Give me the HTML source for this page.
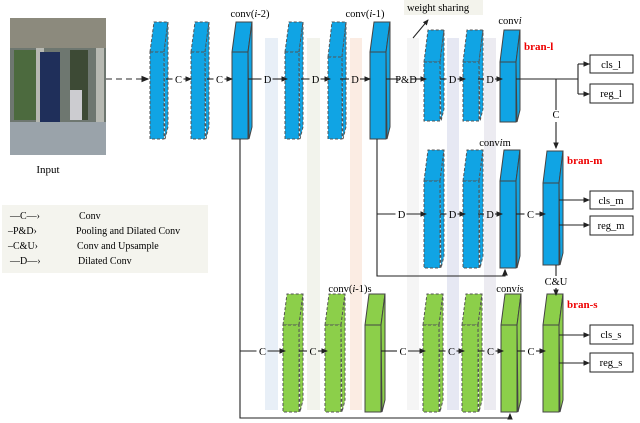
<!DOCTYPE html>
<html><head><meta charset="utf-8"><style>
html,body{margin:0;padding:0;background:#fff;}
svg{display:block;font-family:"Liberation Serif",serif;}
</style></head><body>
<svg id="s" width="640" height="423" viewBox="0 0 640 423" xmlns="http://www.w3.org/2000/svg">
<defs><marker id="a" markerWidth="6" markerHeight="6" refX="5" refY="3" orient="auto"><path d="M0,0.5 L6,3 L0,5.5z" fill="#222"/></marker></defs>
<!-- bands -->
<rect x="265" y="38" width="13" height="372" fill="#e8eff7"/>
<rect x="307" y="38" width="13" height="372" fill="#f2f3ec"/>
<rect x="350" y="38" width="12" height="372" fill="#fbece3"/>
<rect x="407" y="38" width="12" height="372" fill="#f5f5f5"/>
<rect x="447" y="38" width="12" height="372" fill="#e6e8f3"/>
<rect x="484" y="38" width="12" height="372" fill="#ecebf1"/>
<!-- photo -->
<rect x="10" y="18" width="96" height="137" fill="#6e7770"/>
<rect x="10" y="18" width="96" height="30" fill="#8c8a7d"/>
<rect x="14" y="50" width="22" height="70" fill="#4c6a3e"/>
<rect x="70" y="50" width="18" height="70" fill="#3d4a35"/>
<rect x="36" y="48" width="8" height="75" fill="#b7b9b2"/>
<rect x="96" y="48" width="8" height="75" fill="#b7b9b2"/>
<rect x="40" y="52" width="20" height="70" fill="#1f2f5a"/>
<rect x="70" y="90" width="12" height="30" fill="#ccccd0"/>
<rect x="10" y="122" width="96" height="33" fill="#9aa3aa"/>
<text x="48" y="173" font-size="11" text-anchor="middle">Input</text>
<line x1="106" y1="79" x2="148" y2="79" stroke="#555" stroke-width="1.3" stroke-dasharray="6,4" marker-end="url(#a)"/>
<!-- legend -->
<rect x="2" y="205" width="206" height="68" fill="#f4f4ee"/>
<g font-size="10">
<text x="10" y="219">—C—›</text><text x="79" y="219">Conv</text>
<text x="8" y="234">–P&amp;D›</text><text x="76" y="234">Pooling and Dilated Conv</text>
<text x="8" y="249">–C&amp;U›</text><text x="77" y="249">Conv and Upsample</text>
<text x="10" y="264">—D—›</text><text x="78" y="264">Dilated Conv</text>
</g>
<!-- weight sharing -->
<rect x="404" y="0" width="79" height="15" fill="#f3f3ec"/>
<text x="407" y="11" font-size="10.5">weight sharing</text>
<line x1="413" y1="38" x2="428" y2="20" stroke="#222" marker-end="url(#a)"/>
<g id="blocks"></g>
<g id="lines" stroke="#222" stroke-width="1.1" fill="none"></g>
<g font-size="10.5" text-anchor="middle" id="lbl">
<text x="250" y="17">conv(<tspan font-style="italic">i</tspan>-2)</text>
<text x="365" y="17">conv(<tspan font-style="italic">i</tspan>-1)</text>
<text x="510" y="24">conv<tspan font-style="italic">i</tspan></text>
<text x="495" y="146">conv<tspan font-style="italic">i</tspan>m</text>
<text x="350" y="292">conv(<tspan font-style="italic">i</tspan>-1)s</text>
<text x="510" y="292">conv<tspan font-style="italic">i</tspan>s</text>
<text x="556" y="285">C&amp;U</text>
<text x="556" y="118">C</text>
</g>
<g font-size="11" font-weight="bold" fill="#e00" font-family="Liberation Serif,serif">
<text x="524" y="50">bran-l</text><text x="567" y="164">bran-m</text><text x="567" y="308">bran-s</text>
</g>
<g font-size="10.5" text-anchor="middle" fill="none" stroke="#222">
<rect x="590" y="55" width="43" height="18"/><rect x="590" y="84" width="43" height="19"/>
<rect x="590" y="191" width="43" height="18"/><rect x="590" y="216" width="43" height="19"/>
<rect x="590" y="325" width="43" height="19"/><rect x="590" y="353" width="43" height="19"/>
</g>
<g font-size="10.5" text-anchor="middle">
<text x="611" y="68">cls_l</text><text x="611" y="97">reg_l</text>
<text x="611" y="204">cls_m</text><text x="611" y="229">reg_m</text>
<text x="611" y="338">cls_s</text><text x="611" y="366">reg_s</text>
</g>
<g id="ops" font-size="10.5" text-anchor="middle"></g>
</svg>
<script>
const NS="http://www.w3.org/2000/svg";
const B=document.getElementById('blocks'),L=document.getElementById('lines'),O=document.getElementById('ops');
function el(p,t,a){const e=document.createElementNS(NS,t);for(const k in a)e.setAttribute(k,a[k]);p.appendChild(e);return e;}
function blk(x,w,top,ft,bot,col,dash){
 const dx=4,a={fill:col,stroke:dash?'#555':'#444','stroke-width':1};
 if(dash)a['stroke-dasharray']='3,2';
 el(B,'polygon',Object.assign({points:`${x},${ft} ${x+dx},${top} ${x+w},${top} ${x+w-dx},${ft}`},a));
 el(B,'polygon',Object.assign({points:`${x+w-dx},${ft} ${x+w},${top} ${x+w},${bot-12} ${x+w-dx+1},${bot}`},a));
 el(B,'rect',Object.assign({x:x,y:ft,width:w-dx,height:bot-ft},a));
}
const bl='#10a4e4',gr='#8ccf4a';
[[150,18,22,52,139,1],[191,18,22,52,139,1],[232,20,22,52,139,0],[285,18,22,52,139,1],[328,18,22,57,139,1],[370,20,22,52,139,0],
 [424,20,30,62,121,1],[463,20,30,62,121,1],[500,20,30,62,122,0]].forEach(b=>blk(b[0],b[1],b[2],b[3],b[4],bl,b[5]));
[[424,20,150,181,268,1],[463,20,150,181,268,1],[500,20,150,181,268,0],[543,20,151,183,265,0]].forEach(b=>blk(b[0],b[1],b[2],b[3],b[4],bl,b[5]));
[[283,20,294,325,412,1],[325,20,294,325,412,1],[365,20,294,325,412,0],[423,20,294,325,412,1],[462,20,294,325,412,1],[501,20,294,325,412,0],[543,20,294,325,412,0]].forEach(b=>blk(b[0],b[1],b[2],b[3],b[4],gr,b[5]));
function ln(d,arr){const e=el(L,'path',{d:d});if(arr)e.setAttribute('marker-end','url(#a)');}
function op(x1,x2,y,t){const m=(x1+x2)/2;ln(`M${x1},${y}H${m-6}`);ln(`M${m+5},${y}H${x2}`,1);el(O,'text',{x:m,y:y+4}).textContent=t;}
op(166,191,79,'C');op(207,232,79,'C');op(248,287,79,'D');op(301,330,79,'D');op(340,370,79,'D');
op(386,426,79,'P&D');op(440,465,79,'D');op(478,502,79,'D');
ln('M516,79H578M578,64V94M578,64H590',0);ln('M578,64H589',1);ln('M578,94H589',1);
ln('M556,79V110');ln('M556,122V148',1);
// middle
ln('M377,139V276H505V270',1);ln('M505,276V270',1);
op(377,426,214,'D');op(440,465,214,'D');op(478,502,214,'D');op(516,545,214,'C');
ln('M559,200H589',1);ln('M559,225H589',1);
ln('M556,265V276');ln('M556,288V295',1);
// bottom
ln('M240,139V418H510V414',1);
op(240,285,351,'C');op(299,327,351,'C');op(381,425,351,'C');op(439,464,351,'C');op(478,503,351,'C');op(517,545,351,'C');
ln('M559,335H589',1);ln('M559,363H589',1);
</script>
</body></html>
